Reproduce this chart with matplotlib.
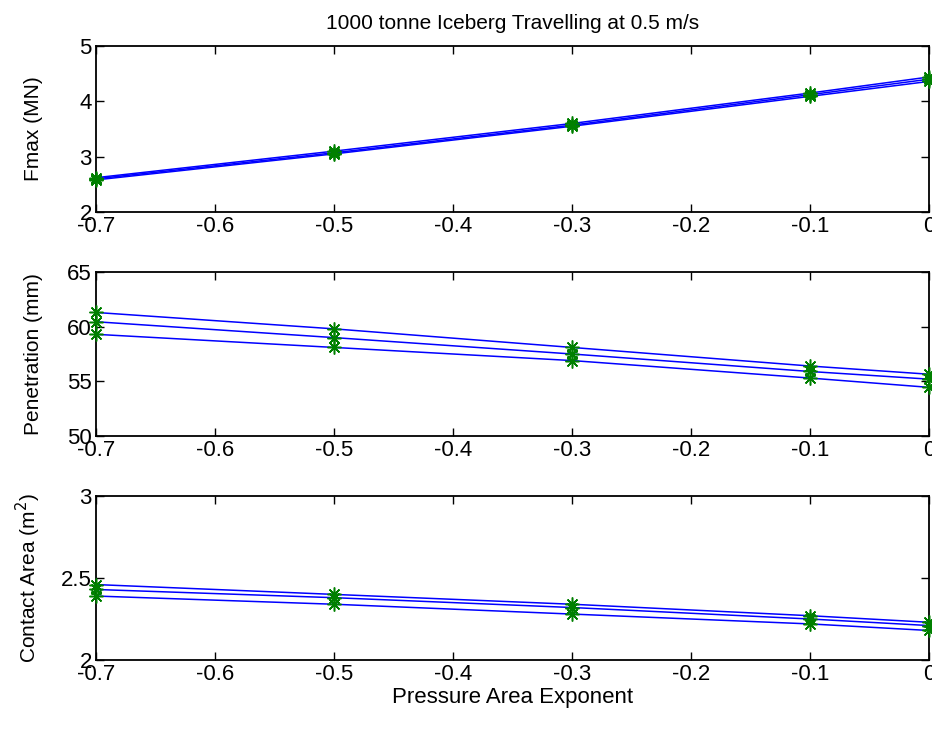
import numpy as np
import matplotlib
matplotlib.use('Agg')
import matplotlib.pyplot as plt

plt.rcParams['font.family'] = ['Liberation Sans', 'DejaVu Sans']

# pressure-area exponent values (x axis)
exponent = [-0.7, -0.5, -0.3, -0.1, 0.0]

# peak force (MN), three cases
fmax_a = [2.62, 3.10, 3.60, 4.15, 4.44]
fmax_b = [2.60, 3.07, 3.57, 4.12, 4.40]
fmax_c = [2.58, 3.05, 3.55, 4.09, 4.36]

# penetration (mm)
pen_a = [61.3, 59.8, 58.1, 56.4, 55.65]
pen_b = [60.45, 59.0, 57.5, 55.9, 55.2]
pen_c = [59.3, 58.1, 56.9, 55.3, 54.45]

# contact area (m^2)
area_a = [2.46, 2.40, 2.34, 2.27, 2.23]
area_b = [2.43, 2.38, 2.32, 2.25, 2.21]
area_c = [2.39, 2.34, 2.28, 2.22, 2.18]

xticks = [-0.7, -0.6, -0.5, -0.4, -0.3, -0.2, -0.1, 0]
xticklabels = ['-0.7', '-0.6', '-0.5', '-0.4', '-0.3', '-0.2', '-0.1', '0']

panels = [
    ([fmax_a, fmax_b, fmax_c], 'Fmax (MN)', (2, 5), [2, 3, 4, 5], ['2', '3', '4', '5']),
    ([pen_a, pen_b, pen_c], 'Penetration (mm)', (50, 65), [50, 55, 60, 65], ['50', '55', '60', '65']),
    ([area_a, area_b, area_c], 'Contact Area (m$^2$)', (2, 3), [2, 2.5, 3], ['2', '2.5', '3']),
]

fig = plt.figure(figsize=(9.32, 7.34), dpi=100)
W, H = 932.0, 734.0
left, right = 96, 929
boxes = [(46, 212), (272, 436), (496, 660)]

axes = []
for (top, bot), (series, ylab, ylim, yt, ytl) in zip(boxes, panels):
    ax = fig.add_axes([left / W, 1 - bot / H, (right - left) / W, (bot - top) / H])
    for s in series:
        ax.plot(exponent, s, color='blue', linewidth=1.1, clip_on=False, zorder=2)
        # MATLAB style asterisk marker
        ax.plot(exponent, s, linestyle='none', marker=(8, 2, 0), color='green',
                markersize=10, markeredgewidth=1.1, clip_on=False, zorder=3)
    ax.set_xlim(-0.7, 0)
    ax.set_ylim(*ylim)
    ax.set_xticks(xticks)
    ax.set_xticklabels(xticklabels)
    ax.set_yticks(yt)
    ax.set_yticklabels(ytl)
    ax.tick_params(direction='in', top=True, right=True, length=6, width=1,
                   labelsize=16, pad=3)
    for sp in ax.spines.values():
        sp.set_linewidth(1.3)
    ax.set_ylabel(ylab, fontsize=15)
    ax.yaxis.set_label_coords(-0.064, 0.5)
    axes.append(ax)

axes[0].set_title('1000 tonne Iceberg Travelling at 0.5 m/s', fontsize=15, pad=12)
axes[2].set_xlabel('Pressure Area Exponent', fontsize=16, labelpad=1)

fig.savefig('out.png', dpi=100)
